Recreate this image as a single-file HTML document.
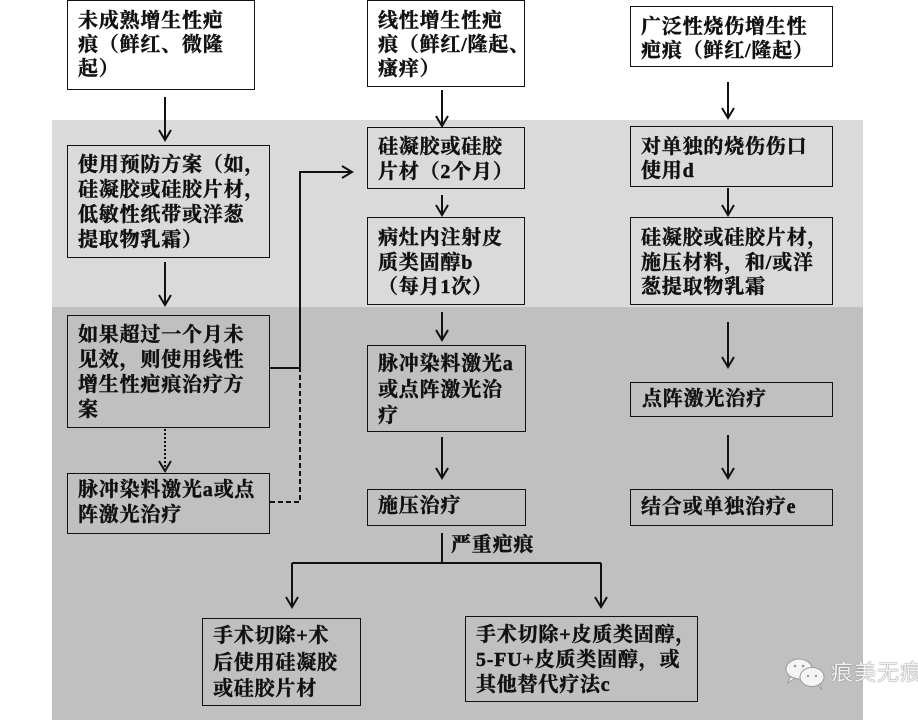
<!DOCTYPE html>
<html>
<head>
<meta charset="utf-8">
<style>
  html,body{margin:0;padding:0;}
  body{width:918px;height:720px;position:relative;overflow:hidden;background:#fff;
    font-family:"Liberation Serif","Noto Serif CJK SC","Noto Sans CJK SC",serif;}
  .bg{position:absolute;}
  .box{position:absolute;box-sizing:border-box;border:1.5px solid #111;color:#111;
    font-weight:bold;font-size:20px;letter-spacing:0.8px;white-space:nowrap;
    -webkit-text-stroke:0.45px #111;}
  .box div{height:25px;line-height:25px;}
  svg{position:absolute;left:0;top:0;}
</style>
</head>
<body>
<div class="bg" style="left:52px;top:120px;width:811px;height:187px;background:#dadada;"></div>
<div class="bg" style="left:52px;top:307px;width:811px;height:413px;background:#c0c0c0;"></div>

<svg width="918" height="720" viewBox="0 0 918 720">
  <g stroke="#111" stroke-width="2" fill="none">
    <line x1="165" y1="97" x2="165" y2="140"/><polyline points="159,130 165,140 171,130"/>
    <line x1="442" y1="90" x2="442" y2="126"/><polyline points="436,116 442,126 448,116"/>
    <line x1="728" y1="82" x2="728" y2="118"/><polyline points="722,108 728,118 734,108"/>
    <line x1="442" y1="195" x2="442" y2="215"/><polyline points="436,205 442,215 448,205"/>
    <line x1="728" y1="188" x2="728" y2="215"/><polyline points="722,205 728,215 734,205"/>
    <line x1="165" y1="262" x2="165" y2="305"/><polyline points="159,295 165,305 171,295"/>
    <line x1="442" y1="312" x2="442" y2="340"/><polyline points="436,330 442,340 448,330"/>
    <line x1="442" y1="437" x2="442" y2="478"/><polyline points="436,468 442,478 448,468"/>
    <line x1="728" y1="322" x2="728" y2="367"/><polyline points="722,357 728,367 734,357"/>
    <line x1="728" y1="435" x2="728" y2="478"/><polyline points="722,468 728,478 734,468"/>
    <polyline points="270,368 300,368 300,172 352,172"/>
    <polyline points="342,166 352,172 342,178"/>
    <line x1="165" y1="429" x2="165" y2="471" stroke-dasharray="2,2"/>
    <polyline points="159,461 165,471 171,461"/>
    <polyline points="270,502 300,502 300,369" stroke-dasharray="5,3"/>
    <line x1="442" y1="533" x2="442" y2="563"/>
    <line x1="292" y1="563" x2="601" y2="563"/>
    <line x1="292" y1="563" x2="292" y2="607"/><polyline points="286,597 292,607 298,597"/>
    <line x1="601" y1="563" x2="601" y2="607"/><polyline points="595,597 601,607 607,597"/>
  </g>
  <g stroke="#9a9a9a" stroke-width="1" fill="#f4f4f4">
    <ellipse cx="799" cy="669" rx="13" ry="10"/>
    <path d="M790 677 L788 683 L795 678 Z"/>
    <ellipse cx="812" cy="677" rx="12" ry="9.5"/>
    <path d="M818 685 L822 690 L820 684 Z"/>
  </g>
  <g fill="#9a9a9a">
    <circle cx="795" cy="666" r="1.3"/><circle cx="803" cy="666" r="1.3"/>
    <circle cx="808" cy="676" r="1.2"/><circle cx="816" cy="676" r="1.2"/>
  </g>
</svg>

<div class="box" style="left:67px;top:0px;width:188px;height:90px;background:#fff;padding:8px 0 0 10px;">
  <div style="height:24px;line-height:24px">未成熟增生性疤</div><div style="height:24px;line-height:24px">痕（鲜红、微隆</div><div style="height:24px;line-height:24px">起）</div>
</div>
<div class="box" style="left:367px;top:0px;width:158px;height:87px;background:#fff;padding:8px 0 0 10px;">
  <div style="height:24px;line-height:24px">线性增生性疤</div><div style="height:24px;line-height:24px">痕（鲜红/隆起、</div><div style="height:24px;line-height:24px">瘙痒）</div>
</div>
<div class="box" style="left:630px;top:6px;width:203px;height:61px;background:#fff;padding:8px 0 0 10px;">
  <div style="height:24px;line-height:24px">广泛性烧伤增生性</div><div style="height:24px;line-height:24px">疤痕（鲜红/隆起）</div>
</div>

<div class="box" style="left:67px;top:145px;width:203px;height:113px;background:#dadada;padding:7px 0 0 10px;">
  <div>使用预防方案（如，</div><div>硅凝胶或硅胶片材，</div><div>低敏性纸带或洋葱</div><div>提取物乳霜）</div>
</div>
<div class="box" style="left:367px;top:127px;width:158px;height:62px;background:#dadada;padding:7px 0 0 10px;">
  <div>硅凝胶或硅胶</div><div>片材（2个月）</div>
</div>
<div class="box" style="left:630px;top:126px;width:203px;height:61px;background:#dadada;padding:8px 0 0 10px;">
  <div style="height:24px;line-height:24px">对单独的烧伤伤口</div><div style="height:24px;line-height:24px">使用d</div>
</div>
<div class="box" style="left:367px;top:217px;width:158px;height:88px;background:#dadada;padding:8px 0 0 10px;">
  <div style="height:24.5px;line-height:24.5px">病灶内注射皮</div><div style="height:24.5px;line-height:24.5px">质类固醇b</div><div style="height:24.5px;line-height:24.5px">（每月1次）</div>
</div>
<div class="box" style="left:630px;top:217px;width:203px;height:88px;background:#dadada;padding:8px 0 0 10px;">
  <div style="height:24.5px;line-height:24.5px">硅凝胶或硅胶片材，</div><div style="height:24.5px;line-height:24.5px">施压材料，和/或洋</div><div style="height:24.5px;line-height:24.5px">葱提取物乳霜</div>
</div>

<div class="box" style="left:67px;top:315px;width:203px;height:113px;background:#c0c0c0;padding:7px 0 0 10px;">
  <div>如果超过一个月未</div><div>见效，则使用线性</div><div>增生性疤痕治疗方</div><div>案</div>
</div>
<div class="box" style="left:67px;top:473px;width:203px;height:61px;background:#c0c0c0;padding:4px 0 0 10px;">
  <div>脉冲染料激光a或点</div><div>阵激光治疗</div>
</div>
<div class="box" style="left:367px;top:345px;width:159px;height:87px;background:#c0c0c0;padding:5px 0 0 10px;">
  <div style="height:26px;line-height:26px">脉冲染料激光a</div><div style="height:26px;line-height:26px">或点阵激光治</div><div style="height:26px;line-height:26px">疗</div>
</div>
<div class="box" style="left:367px;top:489px;width:159px;height:37px;background:#c0c0c0;padding:4px 0 0 10px;">
  <div>施压治疗</div>
</div>
<div class="box" style="left:630px;top:382px;width:203px;height:35px;background:#c0c0c0;padding:4px 0 0 11px;">
  <div>点阵激光治疗</div>
</div>
<div class="box" style="left:630px;top:489px;width:203px;height:37px;background:#c0c0c0;padding:5px 0 0 10px;">
  <div>结合或单独治疗e</div>
</div>

<div class="box" style="left:451px;top:533px;border:none;padding:0;">
  <div>严重疤痕</div>
</div>

<div class="box" style="left:202px;top:618px;width:159px;height:88px;background:#c0c0c0;padding:4px 0 0 10px;">
  <div style="height:26.5px;line-height:26.5px">手术切除+术</div><div style="height:26.5px;line-height:26.5px">后使用硅凝胶</div><div style="height:26.5px;line-height:26.5px">或硅胶片材</div>
</div>
<div class="box" style="left:465px;top:616px;width:233px;height:86px;background:#c0c0c0;padding:6px 0 0 10px;">
  <div>手术切除+皮质类固醇，</div><div>5-FU+皮质类固醇，或</div><div>其他替代疗法c</div>
</div>

<div style="position:absolute;left:831px;top:660px;font-family:'Liberation Sans','Noto Sans CJK SC',sans-serif;font-size:22px;line-height:26px;color:#f2f2f2;letter-spacing:1px;white-space:nowrap;text-shadow:0 0 1px #777,0 0 1px #777;">痕美无痕</div>
</body>
</html>
